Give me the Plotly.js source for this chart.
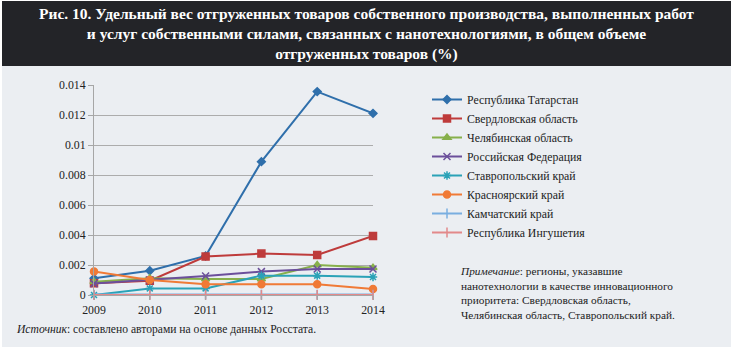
<!DOCTYPE html>
<html>
<head>
<meta charset="utf-8">
<script src="https://cdn.plot.ly/plotly-3.0.1.min.js"></script>
<style>
html,body{margin:0;padding:0;background:#ffffff;}
#chart{width:731px;height:354px;}
</style>
</head>
<body>
<div id="chart"></div>
<script>
const years = [2009, 2010, 2011, 2012, 2013, 2014];
const seriesNames = [
  "Республика Татарстан",
  "Свердловская область",
  "Челябинская область",
  "Российская Федерация",
  "Ставропольский край",
  "Красноярский край",
  "Камчатский край",
  "Республика Ингушетия"
];
const tatarstan   = [0.00111, 0.00162, 0.00260, 0.00889, 0.01356, 0.01211];
const sverdlovsk  = [0.00078, 0.00095, 0.00256, 0.00276, 0.00267, 0.00393];
const chelyabinsk = [0.00089, 0.00111, 0.00107, 0.00107, 0.00200, 0.00182];
const russia      = [0.00076, 0.00100, 0.00127, 0.00156, 0.00173, 0.00173];
const stavropol   = [0.00000, 0.00044, 0.00044, 0.00129, 0.00129, 0.00120];
const krasnoyarsk = [0.00156, 0.00100, 0.00071, 0.00071, 0.00071, 0.00040];
const kamchatka   = [0.00003, 0.00003, 0.00003, 0.00003, 0.00003, 0.00003];
const ingushetia  = [0.00000, 0.00000, 0.00000, 0.00000, 0.00000, 0.00000];
const yTicks = [0, 0.002, 0.004, 0.006, 0.008, 0.01, 0.012, 0.014];
const yTickText = ["0", "0.002", "0.004", "0.006", "0.008", "0.01", "0.012", "0.014"];
const titleLines = [
  "Рис. 10. Удельный вес отгруженных товаров собственного производства, выполненных работ",
  "и услуг собственными силами, связанных с нанотехнологиями, в общем объеме",
  "отгруженных товаров (%)"
];
const noteLines = [
  "<i>Примечание</i>: регионы, указавшие",
  "нанотехнологии в качестве инновационного",
  "приоритета: Свердловская область,",
  "Челябинская область, Ставропольский край."
];
const sourceText = "<i>Источник</i>: составлено авторами на основе данных Росстата.";

const allValues = [tatarstan, sverdlovsk, chelyabinsk, russia, stavropol, krasnoyarsk, kamchatka, ingushetia];
const colors = ["#2f6fab", "#be3b3b", "#87b04b", "#6b4f9b", "#2aa2b7", "#f07a36", "#79aee0", "#e2898a"];
const symbols = ["diamond", "square", "triangle-up", "x-thin-open", "asterisk-open", "circle", "line-ns-open", "line-ns-open"];
const msizes = [6, 7, 7, 7, 7, 7, 7, 7];

const FONT = "Liberation Serif";

const traces = allValues.map((vals, i) => ({
  x: years,
  y: vals,
  name: seriesNames[i],
  type: "scatter",
  mode: "lines+markers",
  line: {color: colors[i], width: 2},
  marker: {symbol: symbols[i], size: msizes[i], color: colors[i], line: {color: colors[i], width: 1.5}},
  cliponaxis: false
}));

// helpers to convert pixel coords into paper coords
const L = 94, R = 373, T = 85, B = 295;
const px = x => (x - L) / (R - L);
const py = y => (B - y) / (B - T);

const annotations = [
  {xref: "paper", yref: "paper", x: px(366), y: py(34), xanchor: "center", yanchor: "middle",
   showarrow: false, align: "center", text: "<b>" + titleLines.join("<br>") + "</b>",
   font: {family: FONT, size: 15.5, color: "#ffffff"}},
  {xref: "paper", yref: "paper", x: px(458), y: py(292.5), xanchor: "left", yanchor: "middle",
   showarrow: false, align: "left", text: noteLines.join("<br>"),
   font: {family: FONT, size: 11.3, color: "#222222"}},
  {xref: "paper", yref: "paper", x: px(14), y: py(329), xanchor: "left", yanchor: "middle",
   showarrow: false, text: sourceText,
   font: {family: FONT, size: 11.6, color: "#222222"}}
];

const layout = {
  width: 731, height: 354,
  margin: {l: L, r: 731 - R, t: T, b: 354 - B, pad: 0},
  paper_bgcolor: "#ffffff",
  plot_bgcolor: "rgba(0,0,0,0)",
  font: {family: FONT, size: 11.5, color: "#222222"},
  showlegend: true,
  legend: {
    xref: "container", yref: "container",
    x: 427 / 731, y: 1 - 85 / 354,
    xanchor: "left", yanchor: "top",
    bgcolor: "rgba(0,0,0,0)",
    font: {family: FONT, size: 11.8, color: "#222222"},
    traceorder: "normal"
  },
  xaxis: {
    range: [2009, 2014],
    tickvals: years,
    ticktext: years.map(String),
    showgrid: false,
    zeroline: false,
    showline: true,
    linecolor: "#a6a6a6",
    linewidth: 1,
    ticks: "outside",
    ticklen: 4,
    tickcolor: "#a6a6a6",
    tickfont: {family: FONT, size: 11.8, color: "#222222"},
    fixedrange: true
  },
  yaxis: {
    range: [0, 0.014],
    tickvals: yTicks,
    ticktext: yTickText,
    showgrid: true,
    gridcolor: "#acacac",
    gridwidth: 1,
    zeroline: false,
    showline: true,
    linecolor: "#a6a6a6",
    linewidth: 1,
    ticks: "outside",
    ticklen: 5,
    tickcolor: "#a6a6a6",
    tickfont: {family: FONT, size: 11.8, color: "#222222"},
    fixedrange: true
  },
  shapes: [
    {type: "rect", xref: "paper", yref: "paper", layer: "below",
     x0: px(2), x1: px(731), y0: py(347), y1: py(66),
     fillcolor: "#ebeef2", line: {width: 0}},
    {type: "rect", xref: "paper", yref: "paper", layer: "below",
     x0: px(2), x1: px(731), y0: py(66), y1: py(1),
     fillcolor: "#232428", line: {width: 0}}
  ],
  annotations: annotations
};

Plotly.newPlot("chart", traces, layout, {displayModeBar: false, staticPlot: true});
</script>
</body>
</html>
